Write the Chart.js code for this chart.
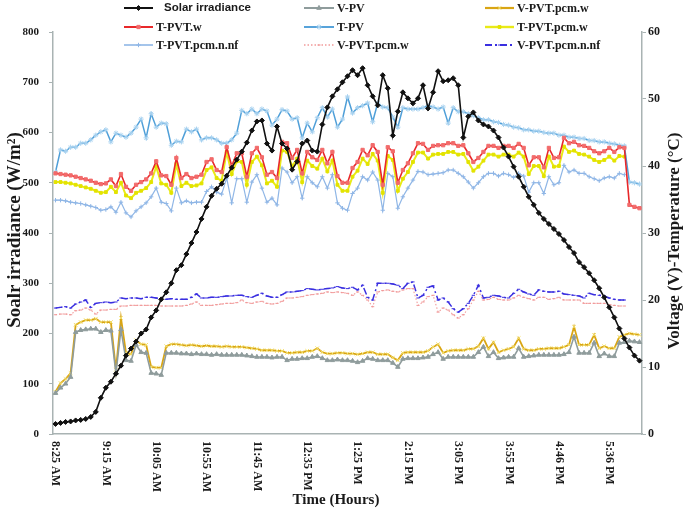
<!DOCTYPE html>
<html>
<head>
<meta charset="utf-8">
<script src="https://cdn.jsdelivr.net/npm/chart.js@4.4.1/dist/chart.umd.min.js"></script>
<style>
  html, body { margin: 0; padding: 0; background: #fff; }
  #wrap { width: 685px; height: 511px; position: relative; }
</style>
</head>
<body>
<div id="wrap"><canvas id="chart" width="685" height="511"></canvas></div>
<script>
// --- DATOS ---
const tickLabels = ['8:25 AM', '9:15 AM', '10:05 AM', '10:55 AM', '11:45 AM', '12:35 PM',
    '1:25 PM', '2:15 PM', '3:05 PM', '3:55 PM', '4:46 PM', '5:36 PM'];

const solarIrradiance = [20, 22, 24, 25, 27, 28, 30, 34, 44, 72,
    92, 104, 120, 136, 156, 170, 184, 200, 208, 232,
    246, 268, 282, 300, 326, 336, 358, 380, 402, 428,
    452, 474, 488, 498, 514, 530, 546, 562, 580, 604,
    622, 624, 578, 564, 612, 578, 568, 526, 542, 578,
    584, 564, 562, 616, 650, 672, 686, 700, 712, 724,
    714, 728, 694, 672, 654, 714, 688, 594, 642, 680,
    668, 658, 668, 694, 648, 680, 722, 702, 704, 708,
    694, 590, 632, 640, 624, 616, 612, 604, 590, 570,
    552, 532, 512, 492, 472, 456, 440, 428, 418, 408,
    398, 386, 372, 360, 342, 332, 320, 306, 290, 272,
    252, 232, 210, 190, 172, 156, 146];

const vPV = [6.1, 6.9, 7.5, 8.5, 15.2, 15.5, 15.6, 15.7, 15.7, 15.2,
    15.5, 15.4, 9.1, 15.6, 11.0, 10.9, 13.3, 12.2, 12.1, 9.1,
    9.0, 8.8, 12.1, 12.1, 12.1, 12.0, 12.0, 11.9, 12.0, 11.9,
    11.9, 11.8, 11.9, 11.8, 11.8, 11.8, 11.8, 11.8, 11.7, 11.6,
    11.5, 11.5, 11.5, 11.4, 11.5, 11.5, 11.0, 11.2, 11.2, 11.3,
    11.3, 11.5, 11.6, 11.3, 11.0, 11.0, 11.1, 11.0, 11.0, 10.9,
    10.7, 10.9, 11.3, 11.2, 11.0, 11.0, 11.0, 10.6, 10.0, 11.2,
    11.3, 11.3, 11.3, 11.4, 11.5, 11.9, 12.2, 11.2, 11.5, 11.5,
    11.5, 11.5, 11.5, 11.5, 12.2, 13.0, 11.6, 12.2, 11.3, 11.4,
    11.5, 11.5, 12.8, 11.5, 11.6, 11.7, 11.8, 11.8, 11.8, 11.8,
    11.8, 11.9, 12.2, 14.5, 12.1, 12.1, 12.1, 13.6, 11.6, 12.0,
    11.6, 11.6, 13.6, 13.7, 13.9, 13.8, 13.7];

const vPVTpcmW = [6.3, 7.6, 8.2, 9.1, 16.3, 16.7, 17.0, 17.0, 17.2, 16.7,
    16.7, 16.7, 9.6, 17.3, 12.1, 11.9, 14.0, 13.4, 13.3, 10.0,
    9.9, 9.9, 13.1, 13.4, 13.4, 13.3, 13.2, 13.3, 13.2, 13.1,
    13.2, 13.1, 13.1, 13.0, 13.1, 13.0, 13.0, 13.0, 12.9, 12.8,
    12.7, 12.5, 12.5, 12.5, 12.4, 12.4, 12.1, 12.1, 12.2, 12.2,
    12.4, 12.4, 12.8, 12.2, 12.0, 12.0, 12.1, 12.1, 12.0, 12.0,
    11.9, 12.0, 12.2, 12.2, 11.9, 11.9, 11.9, 11.4, 11.0, 12.1,
    12.2, 12.2, 12.2, 12.2, 12.4, 13.0, 13.4, 12.1, 12.4, 12.5,
    12.5, 12.5, 12.7, 12.7, 13.1, 14.3, 12.7, 13.7, 12.2, 12.5,
    12.7, 13.0, 14.3, 12.7, 12.5, 12.5, 12.7, 12.7, 12.8, 12.8,
    12.8, 13.0, 13.3, 16.0, 13.3, 13.3, 13.3, 14.8, 12.8, 13.1,
    12.8, 12.8, 14.5, 14.8, 15.0, 14.9, 14.8];

const tPVTw = [38.9, 38.8, 38.7, 38.6, 38.4, 38.2, 38.0, 37.8, 37.5, 37.3,
    37.4, 38.0, 37.0, 38.8, 36.9, 36.3, 37.2, 37.6, 38.0, 38.9,
    40.7, 38.6, 38.5, 37.2, 41.2, 38.2, 38.8, 38.2, 38.4, 38.7,
    40.6, 41.0, 39.4, 39.1, 42.8, 40.0, 41.9, 41.9, 38.4, 41.9,
    42.7, 41.3, 38.7, 39.1, 38.2, 43.6, 43.4, 41.2, 42.4, 38.9,
    42.1, 41.3, 40.9, 42.4, 40.4, 42.1, 38.5, 37.5, 37.5, 39.7,
    40.6, 42.4, 41.6, 43.1, 42.1, 37.2, 42.8, 42.2, 37.5, 39.4,
    40.4, 41.9, 43.4, 43.3, 42.4, 43.0, 43.1, 43.1, 43.4, 43.4,
    43.0, 43.1, 41.9, 40.6, 41.2, 42.1, 43.0, 43.0, 42.7, 43.0,
    43.0, 42.7, 43.3, 42.7, 40.1, 41.3, 41.3, 39.8, 42.7, 41.2,
    41.3, 44.2, 43.4, 43.6, 43.1, 43.0, 42.7, 42.2, 41.9, 42.2,
    42.7, 42.1, 42.8, 42.7, 34.2, 33.9, 33.7];

const tPV = [39.1, 42.4, 42.2, 42.8, 42.8, 43.4, 43.4, 43.9, 44.6, 45.1,
    45.4, 43.6, 44.9, 44.6, 44.3, 44.9, 45.8, 47.0, 44.2, 47.8,
    45.8, 46.4, 46.3, 43.1, 43.7, 43.6, 45.5, 45.1, 45.5, 43.9,
    44.2, 44.2, 43.9, 43.4, 43.4, 43.9, 44.9, 48.3, 47.8, 48.5,
    47.8, 48.5, 48.2, 46.1, 47.0, 48.4, 48.2, 47.0, 47.2, 44.2,
    46.4, 45.1, 47.2, 48.7, 47.3, 48.5, 45.8, 47.0, 50.3, 47.9,
    48.7, 49.0, 49.4, 46.6, 49.4, 48.8, 48.7, 47.3, 45.8, 48.7,
    48.5, 48.5, 48.5, 48.7, 49.0, 48.8, 48.5, 48.8, 46.4, 48.7,
    48.1, 48.1, 47.8, 47.5, 47.2, 46.9, 46.9, 46.6, 46.5, 46.2,
    46.1, 45.8, 45.7, 45.4, 45.4, 45.2, 45.2, 45.0, 44.9, 44.9,
    44.6, 44.6, 44.3, 44.3, 44.1, 44.1, 43.8, 43.8, 43.6, 43.6,
    43.4, 43.3, 43.1, 43.0, 37.6, 37.5, 37.3];

const tPVTpcmW = [37.6, 37.6, 37.5, 37.4, 37.2, 37.0, 36.8, 36.6, 36.3, 36.0,
    36.1, 36.9, 36.1, 37.5, 35.6, 35.2, 36.0, 36.3, 36.7, 37.6,
    39.9, 37.4, 37.2, 36.0, 40.3, 37.0, 37.5, 37.0, 37.1, 37.4,
    39.4, 39.8, 38.2, 37.8, 42.1, 38.8, 40.7, 40.6, 37.2, 40.6,
    41.4, 40.1, 37.4, 37.8, 36.9, 42.3, 42.1, 40.0, 41.1, 37.6,
    40.8, 40.0, 39.6, 41.1, 39.2, 40.8, 37.2, 36.3, 36.3, 38.4,
    39.3, 41.1, 40.3, 41.8, 40.8, 36.0, 41.5, 40.9, 36.3, 38.1,
    39.1, 40.6, 42.0, 42.0, 41.1, 41.7, 41.8, 41.8, 42.1, 42.1,
    41.7, 41.8, 40.6, 39.3, 39.9, 40.8, 41.7, 41.7, 41.4, 41.7,
    41.7, 41.4, 42.0, 41.4, 38.8, 40.0, 40.0, 38.5, 41.4, 39.9,
    40.0, 42.9, 42.1, 42.3, 41.8, 41.7, 41.4, 40.9, 40.6, 40.9,
    41.4, 40.8, 41.5, 41.4, null, null, null];

const tPVTpcmNnf = [34.9, 34.9, 34.8, 34.6, 34.5, 34.4, 34.2, 34.0, 33.8, 33.4,
    33.5, 33.9, 33.1, 34.6, 33.0, 32.4, 33.3, 33.9, 34.5, 35.4,
    36.7, 34.6, 34.4, 33.3, 36.7, 34.5, 34.8, 34.5, 34.6, 34.6,
    36.2, 36.9, 36.1, 35.8, 38.2, 34.5, 38.1, 38.1, 34.6, 37.6,
    38.7, 36.7, 34.6, 35.2, 34.2, 39.7, 39.1, 37.5, 38.4, 35.2,
    38.4, 37.5, 36.9, 38.4, 36.7, 38.7, 34.5, 33.7, 33.4, 35.9,
    36.7, 38.4, 37.9, 39.1, 37.9, 33.4, 38.9, 38.4, 33.7, 35.4,
    36.7, 37.9, 39.2, 39.1, 38.7, 38.8, 38.9, 39.0, 39.4, 39.4,
    38.9, 38.4, 37.6, 36.7, 37.5, 38.4, 38.9, 38.9, 38.5, 38.9,
    38.7, 38.3, 38.9, 38.5, 36.1, 37.5, 37.5, 35.9, 38.4, 37.2,
    37.5, 40.1, 39.1, 39.4, 38.9, 38.9, 38.4, 38.1, 37.8, 38.2,
    38.4, 38.2, 38.9, 38.7, null, null, null];

const vPVTpcmWdot = [17.8, 17.9, 17.9, 17.8, 18.4, 18.5, 18.8, 18.5, 17.9, 18.5,
    18.5, 18.6, 18.6, 19.1, 19.1, 19.2, 19.2, 19.2, 19.2, 19.2,
    19.2, 19.1, 19.1, 19.1, 19.1, 19.1, 19.2, 19.4, 19.7, 19.2,
    19.2, 19.2, 19.3, 19.4, 19.5, 19.5, 19.6, 20.0, 19.6, 19.5,
    19.7, 19.8, 19.5, 19.4, 19.5, 19.8, 20.3, 20.3, 20.4, 20.5,
    20.7, 20.8, 20.9, 21.0, 21.2, 21.1, 21.2, 21.1, 21.0, 20.7,
    21.2, 20.7, 20.0, 19.0, 21.2, 21.4, 21.5, 21.3, 21.2, 21.5,
    21.7, 21.7, 19.2, 19.7, 20.5, 20.7, 18.2, 18.8, 18.5, 17.8,
    17.3, 17.8, 18.7, 20.0, 21.3, 20.0, 20.1, 20.4, 20.1, 20.0,
    20.0, 20.3, 20.7, 20.4, 20.2, 20.0, 20.4, 20.4, 20.1, 20.2,
    20.4, 20.0, 20.0, 20.0, 20.0, 19.5, 19.5, 19.5, 19.5, 19.5,
    19.3, 19.2, 19.1, 19.1, null, null, null];

const vPVTpcmNnf = [18.8, 18.9, 19.0, 18.8, 19.4, 19.7, 20.0, 18.9, 19.5, 19.6,
    19.7, 19.6, 19.7, 20.3, 20.2, 20.3, 20.3, 20.2, 20.4, 20.4,
    20.3, 20.1, 20.1, 20.2, 20.1, 20.1, 20.1, 20.4, 20.9, 20.3,
    20.3, 20.4, 20.4, 20.5, 20.6, 20.6, 20.7, 20.7, 20.5, 20.4,
    20.7, 21.0, 20.6, 20.4, 20.4, 20.8, 21.2, 21.2, 21.3, 21.4,
    21.7, 21.6, 21.5, 21.6, 21.7, 21.8, 22.0, 21.8, 21.7, 21.9,
    21.5, 22.2, 20.4, 20.0, 22.5, 22.5, 22.5, 22.4, 22.2, 21.7,
    22.5, 22.7, 20.3, 20.7, 21.9, 22.1, 20.0, 20.3, 19.7, 18.7,
    18.2, 18.7, 19.5, 20.7, 22.2, 20.3, 20.4, 20.7, 20.6, 20.4,
    20.3, 21.0, 21.6, 21.2, 20.9, 20.7, 21.5, 21.3, 21.2, 21.2,
    21.3, 20.9, 20.8, 20.7, 20.6, 20.3, 21.0, 20.8, 20.7, 20.6,
    20.3, 20.1, 20.0, 20.0, null, null, null];

// Categorías: una lectura cada 5 minutos desde las 8:25 AM
const categories = solarIrradiance.map((_, i) => {
    const m = 8 * 60 + 25 + i * 5;
    const h = Math.floor(m / 60), mm = m % 60;
    return `${((h + 11) % 12) + 1}:${String(mm).padStart(2, '0')} ${h < 12 ? 'AM' : 'PM'}`;
});

// --- ESTILO ---
const SERIF = '"Liberation Serif", "Times New Roman", serif';
const AXIS_COLOR = '#a9b3b3';

const series = [
    { label: 'Solar irradiance', data: solarIrradiance, axis: 'y', color: '#111', width: 1.6, point: 'rectRot', radius: 2.5, fill: '#111', dash: [] },
    { label: 'V-PV', data: vPV, axis: 'y1', color: '#8f9c9c', width: 1.6, point: 'triangle', radius: 2.6, fill: '#8f9c9c', dash: [] },
    { label: 'V-PVT.pcm.w', data: vPVTpcmW, axis: 'y1', color: '#d9a514', width: 1.8, point: 'crossRot', radius: 2.6, fill: '#f3df6a', dash: [] },
    { label: 'T-PVT.w', data: tPVTw, axis: 'y1', color: '#e8282a', width: 1.6, point: 'rect', radius: 2.3, fill: '#f26b6b', dash: [] },
    { label: 'T-PV', data: tPV, axis: 'y1', color: '#4f9fd8', width: 1.5, point: 'star', radius: 2.6, fill: '#a8d2f0', dash: [] },
    { label: 'T-PVT.pcm.w', data: tPVTpcmW, axis: 'y1', color: '#e9ea17', width: 2, point: 'rect', radius: 2.0, fill: '#e3e300', dash: [] },
    { label: 'T-PVT.pcm.n.nf', data: tPVTpcmNnf, axis: 'y1', color: '#8fb6e6', width: 1.2, point: 'cross', radius: 2.2, fill: '#8fb6e6', dash: [] },
    { label: 'V-PVT.pcm.w', data: vPVTpcmWdot, axis: 'y1', color: '#f19a9a', width: 1.1, point: 'line', radius: 1.6, fill: '#f19a9a', dash: [1.5, 2] },
    { label: 'V-PVT.pcm.n.nf', data: vPVTpcmNnf, axis: 'y1', color: '#3a2fe0', width: 1.5, point: 'line', radius: 1.6, fill: '#3a2fe0', dash: [7, 3, 2, 3] }
];

// --- LEYENDA (3 columnas x 3 filas, dibujada a mano) ---
const legendCols = [{ x0: 124, x1: 153, tx: 156 }, { x0: 304, x1: 334, tx: 337 }, { x0: 485, x1: 514, tx: 517 }];
const legendRows = [8, 27, 45];

const customDraw = {
    id: 'customDraw',
    afterDraw(chart) {
        const ctx = chart.ctx;
        const xs = chart.scales.x;
        const area = chart.chartArea;

        // etiquetas del eje x, giradas 90 grados
        ctx.save();
        ctx.fillStyle = '#1a1a1a';
        ctx.font = `bold 12px ${SERIF}`;
        ctx.textAlign = 'left';
        ctx.textBaseline = 'middle';
        tickLabels.forEach((t, k) => {
            const x = xs.getPixelForValue(k * 10);
            ctx.save();
            ctx.translate(x, area.bottom + 7);
            ctx.rotate(Math.PI / 2);
            ctx.fillText(t, 0, 0);
            ctx.restore();
        });

        // títulos de ejes
        ctx.textAlign = 'center';
        ctx.font = `bold 15px ${SERIF}`;
        ctx.fillText('Time (Hours)', 336, 500);

        ctx.save();
        ctx.translate(15, 230);
        ctx.rotate(-Math.PI / 2);
        ctx.font = `bold 19px ${SERIF}`;
        ctx.fillText('Soalr irradiance (W/m²)', 0, 0);
        ctx.restore();

        ctx.save();
        ctx.translate(675, 241);
        ctx.rotate(-Math.PI / 2);
        ctx.font = `bold 17px ${SERIF}`;
        ctx.fillText('Voltage (V)-Temperature (°C)', 0, 0);
        ctx.restore();

        // leyenda
        series.forEach((s, i) => {
            const col = legendCols[i % 3];
            const y = legendRows[Math.floor(i / 3)];
            ctx.save();
            ctx.strokeStyle = s.color;
            ctx.lineWidth = s.width + 0.4;
            ctx.setLineDash(s.dash);
            ctx.beginPath();
            ctx.moveTo(col.x0, y);
            ctx.lineTo(col.x1, y);
            ctx.stroke();
            ctx.setLineDash([]);
            ctx.fillStyle = s.fill;
            ctx.strokeStyle = s.fill;
            ctx.lineWidth = 1;
            Chart.helpers.drawPoint(ctx, {
                pointStyle: s.point, radius: s.radius, rotation: 0, borderWidth: 1
            }, (col.x0 + col.x1) / 2, y);
            ctx.restore();

            ctx.fillStyle = '#1a1a1a';
            ctx.textAlign = 'left';
            ctx.textBaseline = 'middle';
            if (i === 0) {
                ctx.font = '600 11.5px "Liberation Sans", Arial, sans-serif';
                ctx.fillText(s.label, 164, y);
            } else {
                ctx.font = `bold 12px ${SERIF}`;
                ctx.fillText(s.label, col.tx, y + 1);
            }
        });
        ctx.restore();
    }
};

const datasets = series.map(s => ({
    label: s.label,
    data: s.data,
    yAxisID: s.axis,
    borderColor: s.color,
    borderWidth: s.width,
    borderDash: s.dash,
    pointStyle: s.point,
    pointRadius: s.radius,
    pointBorderColor: s.fill,
    pointBackgroundColor: s.fill,
    pointBorderWidth: 1,
    pointHoverRadius: s.radius,
    tension: 0,
    fill: false,
    spanGaps: false
}));

new Chart(document.getElementById('chart').getContext('2d'), {
    type: 'line',
    data: { labels: categories, datasets },
    options: {
        responsive: false,
        animation: false,
        devicePixelRatio: 1,
        layout: { padding: { top: 32, left: 0, right: 0, bottom: 0 } },
        plugins: { legend: { display: false }, tooltip: { enabled: false } },
        scales: {
            x: {
                type: 'category',
                offset: true,
                grid: { display: false },
                border: { color: AXIS_COLOR, width: 1.5 },
                ticks: { display: false },
                afterFit: (scale) => { scale.height = 77; }
            },
            y: {
                position: 'left',
                min: 0, max: 800,
                ticks: { stepSize: 100, color: '#1a1a1a', padding: 10, font: { family: SERIF, size: 11, weight: 'bold' } },
                grid: { drawOnChartArea: false, tickLength: 4, color: AXIS_COLOR },
                border: { color: AXIS_COLOR, width: 1.5 },
                afterFit: (scale) => { scale.width = 53; }
            },
            y1: {
                position: 'right',
                min: 0, max: 60,
                ticks: { stepSize: 10, color: '#1a1a1a', padding: 2, font: { family: SERIF, size: 12, weight: 'bold' } },
                grid: { drawOnChartArea: false, tickLength: 4, color: AXIS_COLOR },
                border: { color: AXIS_COLOR, width: 1.5 },
                afterFit: (scale) => { scale.width = 43; }
            }
        }
    },
    plugins: [customDraw]
});
</script>
</body>
</html>
